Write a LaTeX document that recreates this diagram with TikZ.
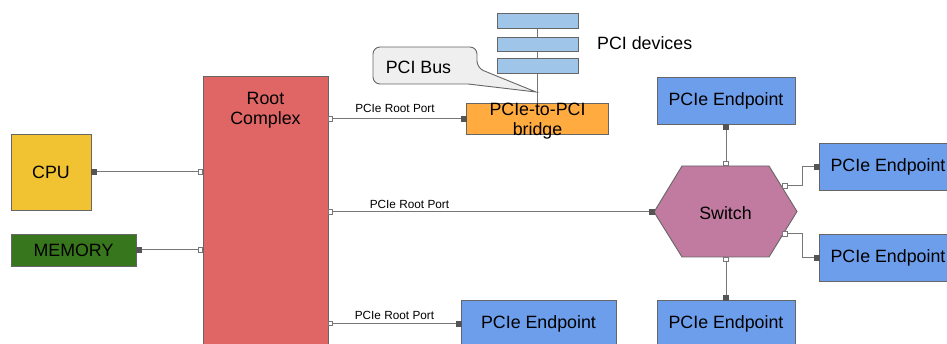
\documentclass[tikz,border=0pt]{standalone}
\usepackage{fontspec}
\setmainfont{Liberation Sans}
\usetikzlibrary{calc}

\definecolor{cpuY}{HTML}{F1C232}
\definecolor{memG}{HTML}{38761D}
\definecolor{rcR}{HTML}{E06666}
\definecolor{brO}{HTML}{FFAB40}
\definecolor{devB}{HTML}{9FC5E8}
\definecolor{swP}{HTML}{C27BA0}
\definecolor{epB}{HTML}{6D9EEB}
\definecolor{bubG}{HTML}{EFEFEF}
\definecolor{edgeG}{HTML}{666666}
\definecolor{wireG}{HTML}{777777}
\definecolor{portD}{HTML}{555555}

\tikzset{
  box/.style={draw=edgeG, line width=0.9pt, inner sep=0pt, outer sep=0pt},
  bigtxt/.style={font=\fontsize{17.8}{20.5}\selectfont, text=black, align=center, inner sep=0pt},
  smalltxt/.style={font=\fontsize{11.8}{14}\selectfont, text=black, inner sep=0pt},
  wire/.style={draw=wireG, line width=1pt},
  portopen/.style={draw=wireG, fill=white, line width=0.7pt, minimum size=4.5pt, inner sep=0pt, outer sep=0pt},
  portfill/.style={draw=portD, fill=portD, minimum size=5pt, inner sep=0pt, outer sep=0pt},
  endpoint/.style={box, fill=epB, minimum width=138pt, minimum height=47pt, bigtxt},
}

\begin{document}
\begin{tikzpicture}[x=1pt, y=-1pt]
\clip (0,0) rectangle (947,344);
\fill[white] (0,0) rectangle (947,344);

% host side
\node[box, fill=cpuY, minimum width=80pt, minimum height=76pt, bigtxt] (cpu) at (51,172) {CPU};
\node[box, fill=memG, minimum width=125pt, minimum height=32pt, bigtxt] (mem) at (73.5,250) {MEMORY};
\node[box, fill=rcR, minimum width=125pt, minimum height=290pt] (rc) at (265.5,221) {};
\node[bigtxt] (rctext) at (265.5,110) {Root\\Complex};

% PCI side
\node[box, fill=devB, minimum width=81pt, minimum height=15pt] (d1) at (537.5,21) {};
\node[box, fill=devB, minimum width=81pt, minimum height=14pt] (d2) at (537.5,44) {};
\node[box, fill=devB, minimum width=81pt, minimum height=15pt] (d3) at (537.5,65.5) {};
\node[bigtxt, anchor=west] (devtext) at (597,43) {PCI devices};
\node[minimum width=142pt, minimum height=31pt, inner sep=0pt, outer sep=0pt] (bridge) at (537.5,118.5) {};

% PCI bus line running through the device stack
\draw[wire] (d1.center) -- (bridge.north);
\node[box, fill=devB, minimum width=81pt, minimum height=15pt] at (d1) {};
\node[box, fill=devB, minimum width=81pt, minimum height=14pt] at (d2) {};
\node[box, fill=devB, minimum width=81pt, minimum height=15pt] at (d3) {};

% bridge box with overflowing label
\node[box, fill=brO, minimum width=142pt, minimum height=31pt] at (bridge) {};
\node[bigtxt] (brtext) at (537.5,121) {PCIe-to-PCI\\bridge};

% speech bubble for the PCI bus
\coordinate (tip) at (536,92);
\draw[draw=edgeG, fill=bubG, line width=0.9pt, rounded corners=7pt]
  (373,47) -- (477,47) -- (477,68) [sharp corners] -- (tip) -- (468,84)
  [rounded corners=7pt] -- (373,84) -- cycle;
\node[bigtxt] (bustext) at (418.5,67) {PCI Bus};

% switch
\coordinate (swL) at (654,212);
\coordinate (swTL) at (682,166);
\coordinate (swTR) at (769,166);
\coordinate (swR) at (797,211.5);
\coordinate (swBR) at (769,257);
\coordinate (swBL) at (682,257);
\coordinate (swT) at (726,166);
\coordinate (swB) at (726,257);
\coordinate (swRU) at (782,186);
\coordinate (swRL) at (782,234);
\draw[draw=edgeG, fill=swP, line width=0.9pt] (swL) -- (swTL) -- (swTR) -- (swR) -- (swBR) -- (swBL) -- cycle;
\node[bigtxt] (swtext) at (725.5,213) {Switch};

% endpoints
\node[endpoint] (epT) at (726,100.5) {PCIe Endpoint};
\node[endpoint] (epR1) at (888,166.5) {PCIe Endpoint};
\node[endpoint] (epR2) at (888,257.5) {PCIe Endpoint};
\node[endpoint] (epB) at (726,323.5) {PCIe Endpoint};
\node[endpoint, minimum width=155pt] (ep3) at (538.5,323.5) {PCIe Endpoint};

% links
\draw[wire] (cpu.east) -- (cpu.east -| rc.west);
\draw[wire] (mem.east) -- (mem.east -| rc.west);
\draw[wire] (rc.east |- 0,119) -- (bridge.west |- 0,119);
\draw[wire] (rc.east |- swL) -- (swL);
\draw[wire] (rc.east |- ep3.west) -- (ep3.west);
\draw[wire] (swT) -- (epT.south);
\draw[wire] (swB) -- (epB.north);
\draw[wire] (swRU) -- (802,186) |- (epR1.west);
\draw[wire] (swRL) -- (802,234) |- (epR2.west);

% link labels
\node[smalltxt] (rp1) at (395,108.5) {PCIe Root Port};
\node[smalltxt] (rp2) at (409.5,204) {PCIe Root Port};
\node[smalltxt] (rp3) at (394.5,315) {PCIe Root Port};

% port markers
\node[portfill] at ($(cpu.east)+(2.5,0)$) {};
\node[portopen] at ($(cpu.east -| rc.west)+(-2.5,0)$) {};
\node[portfill] at ($(mem.east)+(2.5,0)$) {};
\node[portopen] at ($(mem.east -| rc.west)+(-2.5,0)$) {};
\node[portopen] at (330.5,119) {};
\node[portfill] at (463.5,119) {};
\node[portopen] at ($(rc.east |- swL)+(2.5,0)$) {};
\node[portfill] at ($(swL)+(-2,0)$) {};
\node[portopen] at ($(rc.east |- ep3.west)+(2.5,0)$) {};
\node[portfill] at ($(ep3.west)+(-2.5,0)$) {};
\node[portopen] at ($(swT)+(0,-2.5)$) {};
\node[portfill] at ($(epT.south)+(0,2.5)$) {};
\node[portopen] at ($(swB)+(0,2.5)$) {};
\node[portfill] at ($(epB.north)+(0,-2.5)$) {};
\node[portopen] at (785,186) {};
\node[portfill] at ($(epR1.west)+(-2.5,0)$) {};
\node[portopen] at (785,234) {};
\node[portfill] at ($(epR2.west)+(-2.5,0)$) {};
\end{tikzpicture}
\end{document}
